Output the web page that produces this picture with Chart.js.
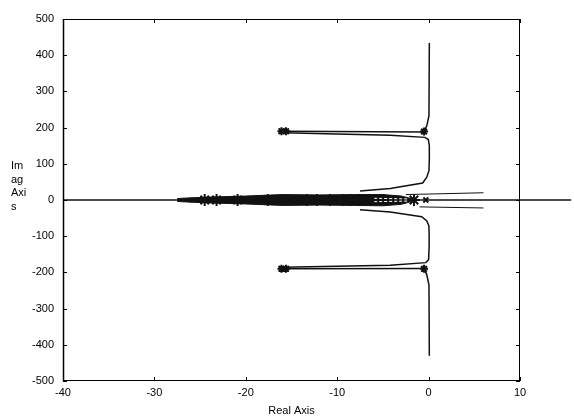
<!DOCTYPE html>
<html>
<head>
<meta charset="utf-8">
<script src="https://cdn.jsdelivr.net/npm/chart.js@4.4.1/dist/chart.umd.min.js"></script>
<style>
  html, body { margin: 0; padding: 0; background: #fff; }
  #wrap { position: relative; width: 574px; height: 418px; }
</style>
</head>
<body>
<div id="wrap"><canvas id="locusChart"></canvas></div>
<script>
// ticks
const xTicks = [-40, -30, -20, -10, 0, 10];
const yTicks = [-500, -400, -300, -200, -100, 0, 100, 200, 300, 400, 500];
const yTitleLines = ['Im', 'ag', 'Axi', 's'];

// real axis line (runs past the right frame in the original)
const axisX = [-40, 15.6];
const axisY = [0, 0];

// upper half branches
const upVertX = [-0.47, -0.2, 0.04, 0.08];
const upVertY = [191, 205, 233, 434];
const upAX = [-15.9, -0.5];
const upAY = [190, 188];
const upBX = [-15.9, -4.2, -0.4, -0.03, 0.08, 0.08, 0.04, -0.2, -0.65, -4.2, -7.5];
const upBY = [186, 179, 173, 167, 150, 113, 81, 63, 47, 32, 25];
const upThinX = [-2.5, 6];
const upThinY = [15, 20];

// lower half branches
const dnVertX = [-0.47, -0.2, 0.04, 0.08];
const dnVertY = [-191, -206, -235, -430];
const dnAX = [-15.9, -0.5];
const dnAY = [-190, -189];
const dnBX = [-15.9, -4.2, -0.3, 0.0, 0.06, 0.06, 0.03, -0.2, -0.75, -4.2, -7.5];
const dnBY = [-186, -180, -173, -165, -127, -95, -71, -58, -46, -33, -27];
const dnThinX = [-1, 6];
const dnThinY = [-19, -22];

// dense cluster of branches along the real axis
const bandX = [-27.5, -26, -24, -20, -16, -12, -8, -5, -3, -1.4];
const bandTop = [4, 6, 8, 11, 15, 14, 15, 15, 11, 1];
const bandBottom = [-4, -6, -8, -11, -15, -14, -15, -16, -12, -1];
const gapX = [-6.5, -2.3];
const gapUpY = [5, 3];
const gapDnY = [-5, -3];

// poles
const bandStarX = [-24.5, -23.2, -20.9, -17.6, -13.3, -12.2, -10.8, -9.4, -8.6, -7.7, -6.4, -1.6];
const bandStarY = [0, 0, 0, 0, 0, 0, 0, 0, 0, 0, 0, 0];
const pairStarX = [-16.1, -15.6, -0.5, -16.1, -15.6, -0.5];
const pairStarY = [190, 190, 189, -190, -190, -190];
const endPoleX = [-0.3];
const endPoleY = [0];

const pts = (xs, ys) => xs.map((x, i) => ({ x: x, y: ys[i] }));
const ink = '#111';

function line(xs, ys, width, extra) {
  return Object.assign({
    data: pts(xs, ys),
    showLine: true,
    borderColor: ink,
    borderWidth: width,
    pointRadius: 0,
    tension: 0,
    fill: false,
    order: 4
  }, extra || {});
}

const frameAndLabels = {
  id: 'frameAndLabels',
  afterDraw(chart) {
    const { ctx, chartArea: a, scales } = chart;
    ctx.save();
    ctx.strokeStyle = '#000';
    ctx.lineWidth = 1;
    ctx.strokeRect(a.left + 0.5, a.top + 0.5, a.right - a.left - 1, a.bottom - a.top - 1);
    ctx.lineWidth = 1.5;
    ctx.beginPath();
    ctx.moveTo(a.left + 0.5, a.top);
    ctx.lineTo(a.left + 0.5, a.bottom);
    ctx.stroke();
    ctx.lineWidth = 1;
    ctx.beginPath();
    xTicks.forEach(v => {
      const px = Math.round(scales.x.getPixelForValue(v)) + 0.5;
      ctx.moveTo(px, a.bottom); ctx.lineTo(px, a.bottom - 4);
      ctx.moveTo(px, a.top); ctx.lineTo(px, a.top + 4);
    });
    yTicks.forEach(v => {
      const py = Math.round(scales.y.getPixelForValue(v)) + 0.5;
      ctx.moveTo(a.left, py); ctx.lineTo(a.left + 4, py);
      ctx.moveTo(a.right, py); ctx.lineTo(a.right - 4, py);
    });
    ctx.stroke();
    ctx.fillStyle = '#000';
    ctx.font = '11px "Liberation Sans", Arial, sans-serif';
    ctx.textAlign = 'left';
    ctx.textBaseline = 'middle';
    yTitleLines.forEach((t, i) => ctx.fillText(t, 11, 166 + i * 13.5));
    ctx.restore();
  }
};

const font = { family: '"Liberation Sans", Arial, sans-serif', size: 11 };

new Chart(document.getElementById('locusChart'), {
  type: 'scatter',
  data: {
    datasets: [
      line(axisX, axisY, 1.3, { clip: false, order: 6 }),
      line(bandX, bandTop, 1, { backgroundColor: ink, fill: 'origin', order: 5 }),
      line(bandX, bandBottom, 1, { backgroundColor: ink, fill: 'origin', order: 5 }),
      line(gapX, gapUpY, 1, { borderColor: '#fff', borderDash: [3, 2], order: 3 }),
      line(gapX, gapDnY, 1, { borderColor: '#fff', borderDash: [3, 2], order: 3 }),
      line(upVertX, upVertY, 1.5),
      line(upAX, upAY, 1.5),
      line(upBX, upBY, 1.5),
      line(upThinX, upThinY, 1),
      line(dnVertX, dnVertY, 1.5),
      line(dnAX, dnAY, 1.5),
      line(dnBX, dnBY, 1.5),
      line(dnThinX, dnThinY, 1),
      {
        data: pts(bandStarX, bandStarY),
        pointStyle: 'star', pointRadius: 6, borderWidth: 2,
        borderColor: ink, backgroundColor: ink, order: 1
      },
      {
        data: pts(pairStarX, pairStarY),
        pointStyle: 'star', pointRadius: 4, borderWidth: 2,
        borderColor: ink, backgroundColor: ink, order: 1
      },
      {
        data: pts(endPoleX, endPoleY),
        pointStyle: 'crossRot', pointRadius: 3.5, borderWidth: 2,
        borderColor: ink, backgroundColor: ink, order: 1
      }
    ]
  },
  options: {
    responsive: true,
    maintainAspectRatio: false,
    animation: false,
    layout: { padding: { top: 19, right: 54, left: 0, bottom: 0 } },
    plugins: { legend: { display: false }, tooltip: { enabled: false } },
    scales: {
      x: {
        type: 'linear', min: -40, max: 10,
        afterBuildTicks(s) { s.ticks = xTicks.map(v => ({ value: v })); },
        ticks: { font: font, color: '#000', padding: 5, maxRotation: 0 },
        grid: { display: false, drawTicks: false },
        border: { display: false },
        title: { display: true, text: 'Real Axis', font: font, color: '#000', padding: { top: 0, bottom: 0 } },
        afterFit(s) { s.height = 37; }
      },
      y: {
        type: 'linear', min: -500, max: 500,
        afterBuildTicks(s) { s.ticks = yTicks.map(v => ({ value: v })); },
        ticks: { font: font, color: '#000', padding: 9 },
        grid: { display: false, drawTicks: false },
        border: { display: false },
        afterFit(s) { s.width = 63; }
      }
    }
  },
  plugins: [frameAndLabels]
});
</script>
</body>
</html>
